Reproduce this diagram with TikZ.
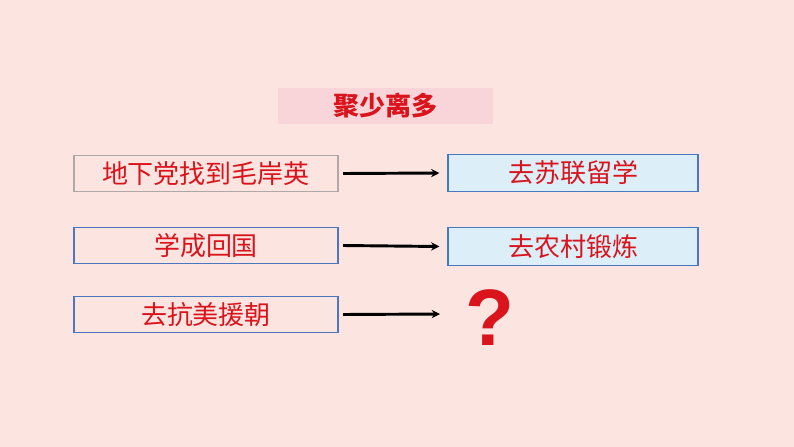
\documentclass[tikz,border=0pt]{standalone}
\usepackage{fontspec}
\usepackage{tikz}
\usetikzlibrary{arrows.meta,positioning}
\newfontfamily\cjk{Noto Sans CJK SC}
\newfontfamily\qfont{Liberation Sans}
\definecolor{SlideBg}{HTML}{FCE5E1}
\definecolor{TitleBg}{HTML}{F9D5D9}
\definecolor{StoryRed}{HTML}{D9141C}
\definecolor{StoryBlue}{HTML}{4A78C0}
\definecolor{StoryGray}{HTML}{B0A8A8}
\definecolor{StoryCyan}{HTML}{DCEEF8}

\begin{document}
\begin{tikzpicture}[x=0.75pt,y=-0.75pt,
  event/.style={draw=StoryBlue,line width=0.8pt,fill=SlideBg,minimum width=198pt,minimum height=27.5pt,inner sep=0pt,font=\cjk\fontsize{19.5}{19.5}\selectfont,text=StoryRed},
  result/.style={event,fill=StoryCyan,minimum width=187.5pt,minimum height=28pt},
  edge/.style={-{Stealth[length=2.2mm,width=2.2mm]},draw=black,line width=2.2pt}
]
\fill[SlideBg] (0,0) rectangle (794,447);
\node[fill=TitleBg,minimum width=161pt,minimum height=27pt,inner sep=0pt,
  font=\cjk\bfseries\fontsize{19.5}{19.5}\selectfont,text=StoryRed] (title) at (385.5,106) {聚少离多};
\node[event,draw=StoryGray] (find) at (206,173.5) {地下党找到毛岸英};
\node[event] (back) at (206,245.5) {学成回国};
\node[event] (war) at (206,314.5) {去抗美援朝};
\node[result] (study) at (573,173) {去苏联留学};
\node[result] (farm) at (573,246.5) {去农村锻炼};
\node[font=\qfont\bfseries\fontsize{60}{60}\selectfont,text=StoryRed,inner sep=0pt] (unknown) at (490,318) {?};
\coordinate (warend) at (440,314);
\draw[edge] ([xshift=3.5pt]find.east) -- ([xshift=-6pt]study.west);
\draw[edge] ([xshift=3.5pt]back.east) -- ([xshift=-6pt]farm.west);
\draw[edge] ([xshift=3.5pt]war.east) -- (warend);
\end{tikzpicture}
\end{document}
